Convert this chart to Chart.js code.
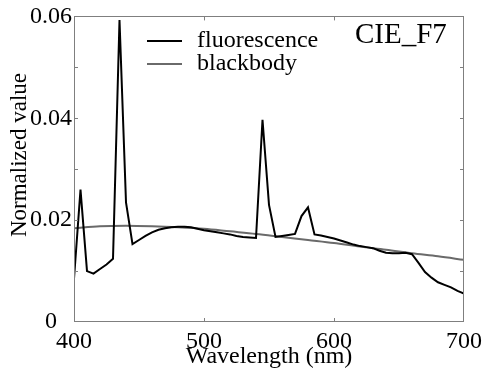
<!DOCTYPE html>
<html><head><meta charset="utf-8">
<script src="https://cdn.jsdelivr.net/npm/chart.js@4.4.1/dist/chart.umd.min.js"></script>
<style>html,body{margin:0;padding:0;background:#fff}#wrap{width:488px;height:369px}</style>
</head><body><div id="wrap"><canvas id="c" width="488" height="369"></canvas></div>
<script>
// ---- data ----
const wavelengths = [400,405,410,415,420,425,430,435,440,445,450,455,460,465,470,475,480,485,490,495,500,505,510,515,520,525,530,535,540,545,550,555,560,565,570,575,580,585,590,595,600,605,610,615,620,625,630,635,640,645,650,655,660,665,670,675,680,685,690,695,700];
const fluorescence = [0.0085,0.0260,0.0100,0.0095,0.0104,0.0113,0.0124,0.0593,0.0235,0.0153,0.0161,0.0169,0.0176,0.0181,0.0184,0.0186,0.0187,0.0187,0.0186,0.0183,0.0180,0.0178,0.0176,0.0174,0.0172,0.0169,0.0167,0.0166,0.0165,0.0397,0.0230,0.0167,0.0169,0.0171,0.0173,0.0208,0.0225,0.0172,0.0170,0.0167,0.0164,0.0160,0.0156,0.0152,0.0149,0.0147,0.0145,0.0140,0.0136,0.0135,0.0135,0.0136,0.0133,0.0116,0.0098,0.0087,0.0078,0.0073,0.0068,0.0061,0.0056];
const bbWavelengths = [400,420,440,460,480,500,520,540,560,580,600,620,640,660,680,700];
const blackbody = [0.0184,0.0188,0.0189,0.0188,0.0186,0.0183,0.0178,0.0173,0.0167,0.0161,0.0155,0.0148,0.0142,0.0135,0.0129,0.0122];
const xTickValues = [400,500,600,700];
const yTickLabels = ['0','0.02','0.04','0.06'];
const seriesNames = ['fluorescence','blackbody'];
const panelLabel = 'CIE_F7';
const xTitle = 'Wavelength (nm)';
const yTitle = 'Normalized value';

const FONT = "'Liberation Serif', 'Times New Roman', serif";
const FRAME = '#7f7f7f';

const decor = {
  id: 'decor',
  afterDraw(chart) {
    const ctx = chart.ctx, a = chart.chartArea;
    const xs = chart.scales.x, ys = chart.scales.y;
    ctx.save();
    // frame
    ctx.strokeStyle = FRAME; ctx.lineWidth = 1;
    ctx.strokeRect(Math.round(a.left) + 0.5, Math.round(a.top) + 0.5, Math.round(a.right - a.left) - 1, Math.round(a.bottom - a.top) - 1);
    // inward ticks
    ctx.beginPath();
    ys.ticks.forEach(t => {
      if (t.value <= ys.min || t.value >= ys.max) return;
      const y = Math.round(ys.getPixelForValue(t.value)) + 0.5;
      ctx.moveTo(a.left, y); ctx.lineTo(a.left + 4, y);
      ctx.moveTo(a.right, y); ctx.lineTo(a.right - 4, y);
    });
    xs.ticks.forEach(t => {
      if (t.value <= xs.min || t.value >= xs.max) return;
      const x = Math.round(xs.getPixelForValue(t.value)) + 0.5;
      ctx.moveTo(x, a.bottom); ctx.lineTo(x, a.bottom - 4);
      ctx.moveTo(x, a.top); ctx.lineTo(x, a.top + 4);
    });
    ctx.stroke();
    // legend
    ctx.font = '24px ' + FONT;
    ctx.textBaseline = 'middle'; ctx.textAlign = 'left';
    chart.data.datasets.forEach((ds, i) => {
      const y = 41 + i * 23;
      ctx.strokeStyle = ds.borderColor; ctx.lineWidth = ds.borderWidth;
      ctx.beginPath(); ctx.moveTo(147, y); ctx.lineTo(182, y); ctx.stroke();
      ctx.fillStyle = '#000';
      ctx.fillText(ds.label, 197, y);
    });
    // panel label
    ctx.font = '29px ' + FONT;
    ctx.textBaseline = 'alphabetic';
    ctx.fillText(panelLabel, 355, 43);
    // y title
    ctx.font = '23px ' + FONT;
    ctx.translate(26, 155); ctx.rotate(-Math.PI / 2);
    ctx.textAlign = 'center';
    ctx.fillText(yTitle, 0, 0);
    ctx.restore();
  }
};

new Chart(document.getElementById('c'), {
  type: 'line',
  data: {
    datasets: [
      { label: seriesNames[0], data: wavelengths.map((w, i) => ({x: w, y: fluorescence[i]})),
        borderColor: '#000000', borderWidth: 2, pointRadius: 0, tension: 0, fill: false },
      { label: seriesNames[1], data: bbWavelengths.map((w, i) => ({x: w, y: blackbody[i]})),
        borderColor: '#6a6a6a', borderWidth: 2, pointRadius: 0, tension: 0.4, cubicInterpolationMode: 'monotone', fill: false }
    ]
  },
  options: {
    responsive: false, animation: false, devicePixelRatio: 1,
    layout: { padding: { top: 15, right: 24, left: 0, bottom: 0 } },
    plugins: { legend: { display: false }, tooltip: { enabled: false } },
    scales: {
      x: {
        type: 'linear', min: 400, max: 700,
        afterBuildTicks: s => { s.ticks = xTickValues.map(v => ({value: v})); },
        ticks: { color: '#000', font: { family: FONT, size: 24 }, padding: 5, maxRotation: 0, autoSkip: false },
        grid: { display: false, drawTicks: false },
        border: { display: false },
        title: { display: true, text: xTitle, color: '#000', font: { family: FONT, size: 24 }, padding: { top: 0, bottom: -2 } },
        afterFit: s => { s.height = 47; }
      },
      y: {
        min: 0, max: 0.06,
        ticks: { stepSize: 0.01, color: '#000', font: { family: FONT, size: 24 }, padding: 2, crossAlign: 'center', autoSkip: false,
          callback: v => { const k = Math.round(v * 100); return k % 2 === 0 ? yTickLabels[k / 2] : ''; } },
        grid: { display: false, drawTicks: false },
        border: { display: false },
        afterFit: s => { s.width = 74; }
      }
    }
  },
  plugins: [decor]
});
</script></body></html>
